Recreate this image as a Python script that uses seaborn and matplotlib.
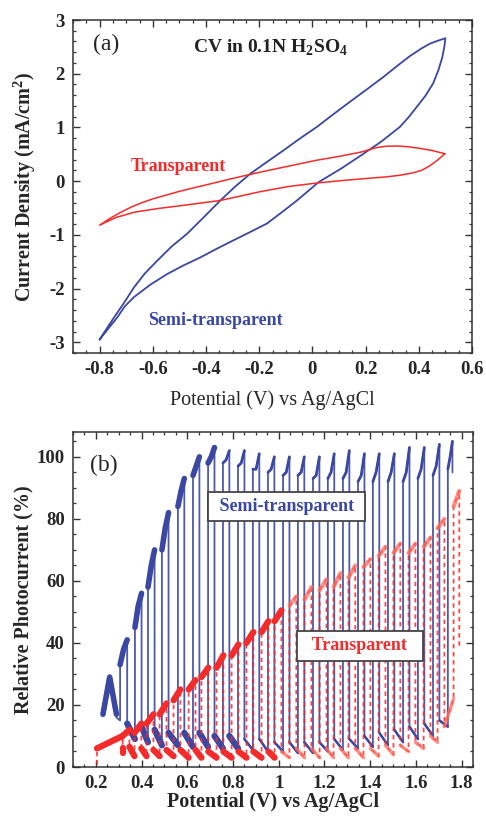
import numpy as np
import pandas as pd
import matplotlib
matplotlib.use("Agg")
import matplotlib.pyplot as plt
import seaborn as sns
from matplotlib.ticker import MultipleLocator, FuncFormatter

# ---------------- data: panel (a) cyclic voltammograms ----------------
semi_v = [-0.800, -0.770, -0.746, -0.710, -0.671, -0.630, -0.583, -0.530, -0.471, -0.410,
          -0.346, -0.290, -0.233, -0.170, -0.108, -0.045, 0.017, 0.080, 0.142, 0.205,
          0.267, 0.320, 0.367, 0.410, 0.442, 0.475, 0.500,
          0.496, 0.488, 0.474, 0.454, 0.425, 0.392, 0.360, 0.329, 0.260, 0.192, 0.110,
          0.023, -0.058, -0.115, -0.171, -0.235, -0.296, -0.360, -0.421, -0.485,
          -0.546, -0.610, -0.671, -0.705, -0.734, -0.768, -0.800]
semi_j = [-2.95, -2.72, -2.54, -2.28, -1.98, -1.72, -1.48, -1.22, -0.98, -0.68,
          -0.36, -0.10, 0.14, 0.36, 0.575, 0.80, 1.01, 1.25, 1.48, 1.71,
          1.94, 2.15, 2.33, 2.47, 2.56, 2.62, 2.66,
          2.50, 2.30, 2.07, 1.82, 1.59, 1.38, 1.18, 1.01, 0.74, 0.51, 0.24,
          -0.02, -0.36, -0.58, -0.79, -0.95, -1.10, -1.26, -1.42, -1.57,
          -1.73, -1.93, -2.16, -2.33, -2.54, -2.75, -2.95]

trans_v = [0.498, 0.450, 0.404, 0.360, 0.317, 0.280, 0.242, 0.182, 0.100, 0.017, -0.108,
           -0.221, -0.300, -0.350, -0.400, -0.450, -0.500, -0.550, -0.600, -0.640,
           -0.680, -0.720, -0.760, -0.800,
           -0.740, -0.671, -0.580, -0.484, -0.346, -0.200, -0.090, 0.017, 0.110,
           0.204, 0.280, 0.329, 0.375, 0.410, 0.440, 0.470, 0.498]
trans_j = [0.51, 0.57, 0.61, 0.64, 0.655, 0.65, 0.625, 0.54, 0.46, 0.39, 0.26,
           0.14, 0.05, -0.01, -0.07, -0.13, -0.19, -0.26, -0.33, -0.40,
           -0.48, -0.58, -0.69, -0.82,
           -0.68, -0.58, -0.51, -0.45, -0.36, -0.20, -0.10, -0.035, 0.01,
           0.05, 0.08, 0.11, 0.15, 0.20, 0.28, 0.39, 0.51]

# ---------------- data: panel (b) chopped-light photocurrent ----------------
# semi-transparent: light-on / light-off potentials, on-state levels, dark levels
semi_on = [0.231, 0.306, 0.371, 0.428, 0.489, 0.559, 0.625, 0.691, 0.756, 0.822, 0.887, 0.953,
           1.019, 1.084, 1.150, 1.215, 1.281, 1.347, 1.412, 1.478, 1.544, 1.609, 1.675, 1.740]
semi_off = [0.290, 0.337, 0.400, 0.457, 0.518, 0.587, 0.653, 0.719, 0.784, 0.850, 0.915, 0.981,
            1.047, 1.112, 1.178, 1.243, 1.309, 1.375, 1.440, 1.506, 1.572, 1.637, 1.703, 1.760]
semi_rise = [17, 33, 45, 58, 70, 84, 94, 98, 98, 97, 96, 95,
             94, 94, 93, 93, 93, 92, 92, 92, 92, 93, 94, 96]
semi_mid = [29, 38, 52, 65, 77, 89, 97, 100, 99, 98, 96, 96,
            95, 95, 94, 95, 95, 94, 95, 95, 95, 96, 97, 100]
semi_top = [17, 41, 56, 70, 82, 93, 100, 103, 102, 102, 101, 100,
            100, 100, 100, 101, 102, 101, 101, 101, 103, 103, 104, 105]
semi_dark_hi = [16, 14, 13, 12, 11, 11, 11, 10, 10, 9, 9, 8,
                8, 8, 8, 9, 9, 10, 11, 12, 13, 14, 15, 95]
semi_dark_lo = [15, 9, 8, 7, 7, 6.5, 6.5, 6, 6, 5.5, 5, 5,
                4.5, 4.5, 5, 5.5, 6, 6.5, 7, 8, 9, 10, 13, 95]

# transparent
trans_on = [0.205, 0.317, 0.369, 0.422, 0.479, 0.540, 0.606, 0.662, 0.728, 0.794, 0.859, 0.925,
            0.982, 1.047, 1.113, 1.179, 1.240, 1.305, 1.371, 1.437, 1.502, 1.568, 1.634, 1.695, 1.765]
trans_off = [0.317, 0.347, 0.399, 0.452, 0.509, 0.570, 0.636, 0.692, 0.758, 0.824, 0.889, 0.955,
             1.012, 1.077, 1.143, 1.209, 1.270, 1.335, 1.401, 1.467, 1.532, 1.598, 1.664, 1.725, 1.790]
trans_rise = [6, 10, 11, 14, 17, 21.5, 25, 29, 32, 36, 40, 43.5,
              47, 52, 54, 57, 58, 61, 64.5, 68, 69, 69, 71, 77, 84]
trans_top = [10, 12, 14, 17, 20.5, 25, 28, 32, 36, 39.5, 43.5, 47,
             50.5, 55, 58, 60.5, 62.5, 65, 67, 71, 72, 72, 74, 80, 89]
trans_dark_hi = [6, 6.5, 6, 5.5, 5.5, 5.5, 5.5, 5, 5, 5, 5, 5,
                 5, 6, 6, 6, 6, 6, 6, 7, 7, 8, 10, 13, 38]
trans_dark_lo = [4.5, 3.5, 3.5, 3.5, 3.5, 3, 3, 3, 3, 3, 3, 3,
                 3, 3, 3, 3, 3, 3, 3.5, 4, 5, 6, 8, 22, 38]
trans_start = (0.203, 1.0)

C_BLUE = '#3a47a3'
C_RED = '#f52a2a'

# ---------------- style ----------------
sns.set_theme(style="ticks")
plt.rcParams['font.family'] = ['Liberation Serif', 'DejaVu Serif']
plt.rcParams['mathtext.fontset'] = 'custom'
plt.rcParams['mathtext.rm'] = 'Liberation Serif'
plt.rcParams['mathtext.bf'] = 'Liberation Serif:bold'
plt.rcParams['axes.unicode_minus'] = False

fig = plt.figure(figsize=(4.86, 8.17), dpi=100)
W, H = 486.0, 817.0
ax1 = fig.add_axes([73 / W, 1 - 353 / H, (472 - 73) / W, (353 - 20) / H])
ax2 = fig.add_axes([73 / W, 1 - 767 / H, (473 - 73) / W, (767 - 432) / H])


def fmt(v, pos):
    v = round(v, 6) + 0.0
    return '%g' % v


def style_axes(ax, xmaj, xmin, ymaj, ymin):
    ax.xaxis.set_major_locator(MultipleLocator(xmaj))
    ax.xaxis.set_minor_locator(MultipleLocator(xmin))
    ax.yaxis.set_major_locator(MultipleLocator(ymaj))
    ax.yaxis.set_minor_locator(MultipleLocator(ymin))
    ax.xaxis.set_major_formatter(FuncFormatter(fmt))
    ax.yaxis.set_major_formatter(FuncFormatter(fmt))
    ax.tick_params(which='both', direction='in', top=True, right=True, color='#333333')
    ax.tick_params(which='major', length=5, width=1.0, labelsize=13.5, pad=6)
    ax.tick_params(which='minor', length=2.5, width=0.9)
    for lab in ax.get_xticklabels() + ax.get_yticklabels():
        lab.set_fontweight('bold')
    for s in ax.spines.values():
        s.set_linewidth(1.1)
        s.set_color('#333333')
    ax.set_facecolor('white')


# ---------------- panel (a) ----------------
df_semi = pd.DataFrame({'V': semi_v, 'J': semi_j})
df_trans = pd.DataFrame({'V': trans_v, 'J': trans_j})
sns.lineplot(data=df_semi, x='V', y='J', sort=False, estimator=None, color=C_BLUE, lw=1.3, ax=ax1)
sns.lineplot(data=df_trans, x='V', y='J', sort=False, estimator=None, color=C_RED, lw=1.1, ax=ax1)
ax1.set_xlim(-0.9, 0.6)
ax1.set_ylim(-3.2, 3.0)
style_axes(ax1, 0.2, 0.05, 1, 0.2)
ax1.set_xlabel('Potential (V) vs Ag/AgCl', fontsize=14.5)
ax1.set_ylabel(r'Current Density (mA/cm$^\mathbf{2}$)', fontsize=14.5, fontweight='bold')
ax1.xaxis.set_label_coords(0.5, -0.112)
ax1.yaxis.set_label_coords(-0.088, 0.5)
ax1.text(-0.826, 2.55, '(a)', fontsize=17, ha='left', va='center')
ax1.text(-0.158, 2.48, r'CV in 0.1N H$_\mathbf{2}$SO$_\mathbf{4}$', fontsize=14,
         fontweight='bold', ha='center', va='center', color='#222222')
ax1.text(-0.684, 0.28, 'Transparent', fontsize=13, fontweight='bold', color=C_RED,
         ha='left', va='center')
ax1.text(-0.616, -2.6, 'Semi-transparent', fontsize=13, fontweight='bold', color=C_BLUE,
         ha='left', va='center')

# ---------------- panel (b) ----------------
# build the step waveform (path) and the segment overlays from the per-pulse values
def build(on, off, rise, mid, top, dhi, dlo, start=None):
    xs, ys, seg_on, seg_off = [], [], [], []
    if start is not None:
        xs.append(start[0]); ys.append(start[1])
    n = len(on)
    for i in range(n):
        xs += [on[i]]
        ys += [ys[-1] if ys else rise[i]]
        pts = [(on[i], rise[i])]
        if mid is not None:
            pts.append(((on[i] + off[i]) / 2, mid[i]))
        pts.append((off[i], top[i]))
        for p in pts:
            xs.append(p[0]); ys.append(p[1])
        seg_on.append(pts)
        xs.append(off[i]); ys.append(dhi[i])
        if i < n - 1:
            xs.append(on[i + 1]); ys.append(dlo[i])
            seg_off.append([(off[i], dhi[i]), (on[i + 1], dlo[i])])
    return xs, ys, seg_on, seg_off


def seg_frame(segs, keep):
    rows = []
    for k, s in enumerate(segs):
        if keep(s):
            for (x, y) in s:
                rows.append({'V': x, 'P': y, 'seg': k})
    return pd.DataFrame(rows)


bx, by, b_on, b_off = build(semi_on, semi_off, semi_rise, semi_mid, semi_top,
                            semi_dark_hi, semi_dark_lo)
rx, ry, r_on, r_off = build(trans_on, trans_off, trans_rise, None, trans_top,
                            trans_dark_hi, trans_dark_lo, start=trans_start)

df_b = pd.DataFrame({'V': bx, 'P': by})
df_r = pd.DataFrame({'V': rx, 'P': ry})

sns.lineplot(data=df_b, x='V', y='P', sort=False, estimator=None, color=C_BLUE, lw=1.3,
             alpha=0.9, ax=ax2, zorder=2)
sns.lineplot(data=seg_frame(b_on, lambda s: s[0][0] < 0.73), x='V', y='P', units='seg',
             estimator=None, sort=False, color=C_BLUE, lw=4.0, ax=ax2, zorder=3)
sns.lineplot(data=seg_frame(b_on, lambda s: s[0][0] >= 0.73), x='V', y='P', units='seg',
             estimator=None, sort=False, color=C_BLUE, lw=2.0, ax=ax2, zorder=3)
sns.lineplot(data=seg_frame(b_off, lambda s: 0.33 < s[0][0] < 0.8), x='V', y='P', units='seg',
             estimator=None, sort=False, color=C_BLUE, lw=4.5, ax=ax2, zorder=3)
sns.lineplot(data=seg_frame(b_off, lambda s: s[0][0] >= 0.8), x='V', y='P', units='seg',
             estimator=None, sort=False, color=C_BLUE, lw=1.8, ax=ax2, zorder=3)

sns.lineplot(data=df_r, x='V', y='P', sort=False, estimator=None, color=C_RED, lw=1.3,
             alpha=0.85, linestyle=(0, (2.5, 2)), ax=ax2, zorder=4)
sns.lineplot(data=seg_frame(r_on, lambda s: s[0][0] < 1.0), x='V', y='P', units='seg',
             estimator=None, sort=False, color=C_RED, lw=4.5, ax=ax2, zorder=5)
sns.lineplot(data=seg_frame(r_on, lambda s: s[0][0] >= 1.0), x='V', y='P', units='seg',
             estimator=None, sort=False, color='#ff6a5a', lw=3.0, alpha=0.75, ax=ax2, zorder=5)
sns.lineplot(data=seg_frame(r_off, lambda s: s[0][0] < 1.0), x='V', y='P', units='seg',
             estimator=None, sort=False, color=C_RED, lw=4.5, ax=ax2, zorder=5)
sns.lineplot(data=seg_frame(r_off, lambda s: s[0][0] >= 1.0), x='V', y='P', units='seg',
             estimator=None, sort=False, color='#ff6a5a', lw=2.5, alpha=0.75, ax=ax2, zorder=5)

ax2.set_xlim(0.1, 1.85)
ax2.set_ylim(0, 108)
style_axes(ax2, 0.2, 0.05, 20, 5)
ax2.set_xlabel('Potential (V) vs Ag/AgCl', fontsize=14.5, fontweight='bold')
ax2.set_ylabel('Relative Photocurrent (%)', fontsize=14.5, fontweight='bold')
ax2.xaxis.set_label_coords(0.5, -0.075)
ax2.yaxis.set_label_coords(-0.10, 0.5)
ax2.text(0.174, 97.3, '(b)', fontsize=17, ha='left', va='center', zorder=10)
box = dict(boxstyle='square,pad=0.35', fc='white', ec='#444444', lw=1.3)
ax2.text(1.034, 84, ' Semi-transparent ', fontsize=13, fontweight='bold', color=C_BLUE,
         ha='center', va='center', bbox=box, zorder=10)
ax2.text(1.355, 39.1, '  Transparent  ', fontsize=13, fontweight='bold', color=C_RED,
         ha='center', va='center', bbox=box, zorder=10)

for ax in (ax1, ax2):
    leg = ax.get_legend()
    if leg is not None:
        leg.remove()

fig.savefig('out.png', dpi=100, facecolor='white')
